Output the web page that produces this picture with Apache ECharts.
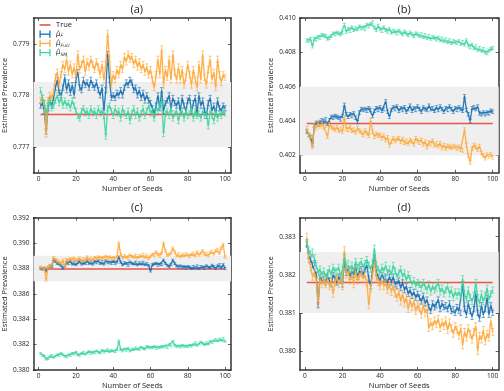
<!DOCTYPE html>
<html>
<head>
<meta charset="utf-8">
<script src="https://cdn.jsdelivr.net/npm/echarts@6/dist/echarts.min.js"></script>
<style>html,body{margin:0;padding:0;background:#fff;}#c{width:504px;height:391px;}</style>
</head>
<body>
<div id="c"></div>
<script>
const seeds = [1,2,3,4,5,6,7,8,9,10,11,12,13,14,15,16,17,18,19,20,21,22,23,24,25,26,27,28,29,30,31,32,33,34,35,36,37,38,39,40,41,42,43,44,45,46,47,48,49,50,51,52,53,54,55,56,57,58,59,60,61,62,63,64,65,66,67,68,69,70,71,72,73,74,75,76,77,78,79,80,81,82,83,84,85,86,87,88,89,90,91,92,93,94,95,96,97,98,99,100];

// ---------- Panel (a) ----------
const aF = [0.77780,0.77785,0.77770,0.77730,0.77775,0.77790,0.77780,0.77795,0.77815,0.77830,
0.77805,0.77800,0.77815,0.77835,0.77810,0.77825,0.77805,0.77820,0.77800,0.77830,
0.77845,0.77815,0.77810,0.77830,0.77820,0.77825,0.77815,0.77830,0.77820,0.77815,
0.77825,0.77810,0.77800,0.77815,0.77770,0.77810,0.77880,0.77830,0.77795,0.77800,
0.77795,0.77805,0.77800,0.77810,0.77800,0.77815,0.77825,0.77820,0.77830,0.77825,
0.77810,0.77815,0.77800,0.77810,0.77795,0.77805,0.77790,0.77800,0.77790,0.77785,
0.77775,0.77765,0.77780,0.77800,0.77775,0.77810,0.77770,0.77785,0.77790,0.77800,
0.77775,0.77795,0.77785,0.77780,0.77790,0.77770,0.77795,0.77780,0.77770,0.77790,
0.77795,0.77770,0.77785,0.77795,0.77765,0.77800,0.77780,0.77790,0.77770,0.77760,
0.77785,0.77795,0.77770,0.77780,0.77765,0.77790,0.77775,0.77770,0.77780,0.77775];
const aFU = [0.77790,0.77795,0.77785,0.77725,0.77790,0.77800,0.77795,0.77805,0.77835,0.77845,
0.77820,0.77840,0.77860,0.77850,0.77870,0.77845,0.77860,0.77840,0.77855,0.77835,
0.77880,0.77850,0.77860,0.77870,0.77845,0.77865,0.77855,0.77870,0.77860,0.77850,
0.77865,0.77855,0.77840,0.77860,0.77830,0.77860,0.77920,0.77870,0.77820,0.77840,
0.77830,0.77850,0.77840,0.77860,0.77850,0.77875,0.77865,0.77880,0.77870,0.77875,
0.77860,0.77870,0.77855,0.77865,0.77850,0.77860,0.77845,0.77855,0.77840,0.77850,
0.77830,0.77815,0.77840,0.77870,0.77840,0.77890,0.77820,0.77850,0.77835,0.77870,
0.77830,0.77880,0.77845,0.77830,0.77855,0.77830,0.77850,0.77820,0.77835,0.77860,
0.77840,0.77820,0.77850,0.77830,0.77815,0.77860,0.77830,0.77880,0.77835,0.77820,
0.77850,0.77870,0.77830,0.77845,0.77815,0.77870,0.77840,0.77825,0.77840,0.77835];
const aSM = [0.77810,0.77795,0.77785,0.77765,0.77780,0.77790,0.77775,0.77780,0.77790,0.77800,
0.77785,0.77795,0.77780,0.77790,0.77780,0.77785,0.77775,0.77790,0.77780,0.77770,
0.77760,0.77755,0.77770,0.77775,0.77765,0.77770,0.77760,0.77775,0.77765,0.77770,
0.77760,0.77775,0.77765,0.77770,0.77760,0.77720,0.77775,0.77780,0.77770,0.77760,
0.77775,0.77765,0.77770,0.77755,0.77775,0.77765,0.77760,0.77770,0.77750,0.77765,
0.77775,0.77760,0.77770,0.77755,0.77765,0.77775,0.77760,0.77770,0.77780,0.77765,
0.77770,0.77755,0.77775,0.77770,0.77780,0.77790,0.77725,0.77765,0.77770,0.77760,
0.77775,0.77755,0.77765,0.77770,0.77750,0.77765,0.77770,0.77755,0.77770,0.77760,
0.77765,0.77775,0.77755,0.77770,0.77760,0.77765,0.77755,0.77770,0.77760,0.77765,
0.77740,0.77770,0.77760,0.77750,0.77770,0.77755,0.77765,0.77760,0.77770,0.77765];

// ---------- Panel (b) ----------
const bF = [0.40340,0.40320,0.40305,0.40262,0.40375,0.40390,0.40380,0.40395,0.40405,0.40400,
0.40410,0.40385,0.40405,0.40425,0.40420,0.40430,0.40425,0.40420,0.40410,0.40430,
0.40495,0.40440,0.40425,0.40440,0.40430,0.40445,0.40420,0.40395,0.40450,0.40470,
0.40465,0.40470,0.40460,0.40475,0.40465,0.40430,0.40460,0.40475,0.40465,0.40480,
0.40460,0.40470,0.40515,0.40455,0.40425,0.40465,0.40480,0.40470,0.40485,0.40460,
0.40475,0.40465,0.40480,0.40455,0.40470,0.40490,0.40460,0.40475,0.40465,0.40485,
0.40470,0.40455,0.40480,0.40470,0.40465,0.40490,0.40470,0.40475,0.40460,0.40480,
0.40465,0.40485,0.40470,0.40455,0.40475,0.40465,0.40485,0.40470,0.40455,0.40475,
0.40465,0.40480,0.40470,0.40460,0.40545,0.40465,0.40440,0.40400,0.40475,0.40480,
0.40470,0.40485,0.40445,0.40440,0.40450,0.40440,0.40450,0.40445,0.40460,0.40455];
const bFU = [0.40360,0.40320,0.40310,0.40250,0.40375,0.40360,0.40390,0.40370,0.40385,0.40365,
0.40375,0.40310,0.40380,0.40365,0.40360,0.40350,0.40365,0.40345,0.40355,0.40340,
0.40420,0.40355,0.40350,0.40365,0.40345,0.40350,0.40335,0.40360,0.40345,0.40335,
0.40320,0.40345,0.40330,0.40315,0.40405,0.40340,0.40310,0.40325,0.40315,0.40320,
0.40300,0.40315,0.40290,0.40305,0.40260,0.40280,0.40300,0.40285,0.40295,0.40300,
0.40280,0.40295,0.40275,0.40285,0.40270,0.40290,0.40280,0.40265,0.40300,0.40285,
0.40275,0.40290,0.40265,0.40280,0.40250,0.40275,0.40265,0.40285,0.40260,0.40270,
0.40255,0.40270,0.40245,0.40260,0.40240,0.40255,0.40250,0.40245,0.40255,0.40250,
0.40240,0.40250,0.40235,0.40230,0.40350,0.40260,0.40200,0.40160,0.40240,0.40260,
0.40250,0.40235,0.40255,0.40215,0.40200,0.40185,0.40205,0.40195,0.40205,0.40190];
const bSM = [0.40870,0.40868,0.40878,0.40835,0.40880,0.40875,0.40890,0.40885,0.40900,0.40898,
0.40895,0.40880,0.40885,0.40895,0.40910,0.40905,0.40915,0.40910,0.40905,0.40915,
0.40960,0.40920,0.40935,0.40925,0.40945,0.40930,0.40940,0.40935,0.40950,0.40940,
0.40945,0.40935,0.40960,0.40950,0.40965,0.40975,0.40945,0.40930,0.40955,0.40935,
0.40925,0.40945,0.40930,0.40920,0.40935,0.40915,0.40925,0.40920,0.40910,0.40925,
0.40915,0.40905,0.40920,0.40910,0.40900,0.40915,0.40905,0.40895,0.40910,0.40905,
0.40895,0.40905,0.40890,0.40900,0.40885,0.40895,0.40880,0.40890,0.40885,0.40875,
0.40885,0.40870,0.40880,0.40865,0.40875,0.40860,0.40870,0.40855,0.40865,0.40860,
0.40855,0.40865,0.40850,0.40860,0.40845,0.40870,0.40840,0.40830,0.40845,0.40825,
0.40835,0.40815,0.40825,0.40810,0.40820,0.40800,0.40795,0.40810,0.40820,0.40825];

// ---------- Panel (c) ----------
const cF = [0.38800,0.38795,0.38800,0.38780,0.38805,0.38820,0.38815,0.38870,0.38855,0.38840,
0.38835,0.38825,0.38800,0.38820,0.38845,0.38840,0.38855,0.38835,0.38850,0.38830,
0.38845,0.38855,0.38835,0.38845,0.38840,0.38860,0.38840,0.38850,0.38835,0.38855,
0.38845,0.38860,0.38840,0.38855,0.38835,0.38860,0.38845,0.38850,0.38840,0.38855,
0.38840,0.38850,0.38890,0.38850,0.38830,0.38845,0.38840,0.38825,0.38850,0.38840,
0.38835,0.38850,0.38830,0.38845,0.38835,0.38850,0.38830,0.38840,0.38825,0.38780,
0.38830,0.38835,0.38840,0.38825,0.38835,0.38830,0.38865,0.38840,0.38825,0.38815,
0.38830,0.38865,0.38840,0.38820,0.38810,0.38820,0.38805,0.38815,0.38800,0.38815,
0.38810,0.38800,0.38815,0.38805,0.38820,0.38800,0.38815,0.38810,0.38800,0.38820,
0.38810,0.38805,0.38825,0.38815,0.38800,0.38820,0.38830,0.38805,0.38830,0.38800];
const cFU = [0.38810,0.38800,0.38805,0.38710,0.38810,0.38815,0.38825,0.38885,0.38870,0.38860,
0.38850,0.38840,0.38865,0.38815,0.38870,0.38860,0.38875,0.38865,0.38880,0.38860,
0.38870,0.38880,0.38860,0.38875,0.38865,0.38890,0.38870,0.38880,0.38865,0.38885,
0.38875,0.38890,0.38880,0.38885,0.38870,0.38895,0.38880,0.38890,0.38875,0.38885,
0.38880,0.38890,0.39000,0.38910,0.38885,0.38900,0.38890,0.38880,0.38905,0.38895,
0.38890,0.38905,0.38885,0.38900,0.38895,0.38910,0.38890,0.38905,0.38880,0.38895,
0.38910,0.38900,0.38930,0.38910,0.38895,0.38920,0.39000,0.38940,0.38905,0.38910,
0.38920,0.38960,0.38930,0.38900,0.38915,0.38895,0.38910,0.38900,0.38915,0.38905,
0.38895,0.38910,0.38920,0.38900,0.38930,0.38905,0.38920,0.38940,0.38910,0.38920,
0.38900,0.38925,0.38935,0.38915,0.38940,0.38950,0.38920,0.38960,0.38990,0.38890];
const cSM = [0.38130,0.38115,0.38110,0.38085,0.38090,0.38105,0.38115,0.38100,0.38110,0.38120,
0.38115,0.38130,0.38120,0.38110,0.38105,0.38120,0.38115,0.38130,0.38125,0.38140,
0.38120,0.38115,0.38130,0.38140,0.38125,0.38135,0.38145,0.38130,0.38140,0.38135,
0.38150,0.38140,0.38135,0.38155,0.38140,0.38150,0.38160,0.38145,0.38155,0.38150,
0.38145,0.38160,0.38230,0.38160,0.38150,0.38165,0.38155,0.38170,0.38150,0.38165,
0.38160,0.38175,0.38165,0.38160,0.38180,0.38170,0.38165,0.38185,0.38175,0.38180,
0.38175,0.38185,0.38170,0.38180,0.38175,0.38185,0.38180,0.38190,0.38175,0.38200,
0.38190,0.38225,0.38195,0.38185,0.38190,0.38180,0.38195,0.38185,0.38190,0.38185,
0.38195,0.38190,0.38200,0.38215,0.38195,0.38205,0.38220,0.38210,0.38200,0.38215,
0.38205,0.38225,0.38215,0.38230,0.38240,0.38230,0.38245,0.38235,0.38250,0.38225];

// ---------- Panel (d) ----------
const dF = [0.38280,0.38250,0.38240,0.38225,0.38230,0.38200,0.38120,0.38195,0.38185,0.38190,
0.38180,0.38195,0.38185,0.38175,0.38200,0.38190,0.38180,0.38195,0.38185,0.38175,
0.38235,0.38205,0.38215,0.38195,0.38210,0.38200,0.38220,0.38195,0.38210,0.38215,
0.38200,0.38215,0.38225,0.38190,0.38170,0.38215,0.38245,0.38205,0.38195,0.38185,
0.38200,0.38190,0.38195,0.38180,0.38195,0.38180,0.38195,0.38175,0.38170,0.38185,
0.38165,0.38180,0.38160,0.38170,0.38150,0.38160,0.38145,0.38155,0.38140,0.38150,
0.38140,0.38130,0.38145,0.38125,0.38135,0.38115,0.38105,0.38125,0.38115,0.38120,
0.38135,0.38110,0.38125,0.38115,0.38120,0.38110,0.38125,0.38105,0.38110,0.38100,
0.38115,0.38105,0.38100,0.38175,0.38110,0.38095,0.38125,0.38105,0.38090,0.38110,
0.38150,0.38100,0.38085,0.38120,0.38095,0.38110,0.38140,0.38095,0.38120,0.38100];
const dFU = [0.38300,0.38240,0.38220,0.38195,0.38205,0.38185,0.38125,0.38190,0.38175,0.38185,
0.38175,0.38190,0.38170,0.38185,0.38150,0.38180,0.38195,0.38175,0.38190,0.38170,
0.38265,0.38200,0.38210,0.38185,0.38200,0.38175,0.38210,0.38185,0.38195,0.38205,
0.38190,0.38200,0.38180,0.38120,0.38165,0.38200,0.38235,0.38195,0.38180,0.38170,
0.38185,0.38170,0.38180,0.38160,0.38175,0.38155,0.38170,0.38150,0.38140,0.38155,
0.38130,0.38150,0.38125,0.38140,0.38110,0.38135,0.38115,0.38130,0.38105,0.38120,
0.38115,0.38095,0.38120,0.38100,0.38110,0.38060,0.38075,0.38065,0.38080,0.38070,
0.38085,0.38060,0.38075,0.38065,0.38080,0.38055,0.38075,0.38060,0.38045,0.38065,
0.38055,0.38040,0.38060,0.38015,0.38050,0.38035,0.38060,0.38045,0.38030,0.38050,
0.38065,0.38000,0.38040,0.38030,0.38055,0.38025,0.38045,0.38035,0.38080,0.38050];
const dSM = [0.38285,0.38265,0.38255,0.38260,0.38245,0.38225,0.38205,0.38215,0.38200,0.38210,
0.38195,0.38205,0.38215,0.38200,0.38220,0.38210,0.38205,0.38220,0.38195,0.38215,
0.38245,0.38225,0.38230,0.38215,0.38225,0.38210,0.38235,0.38220,0.38225,0.38235,
0.38220,0.38230,0.38240,0.38225,0.38215,0.38230,0.38270,0.38225,0.38215,0.38205,
0.38220,0.38210,0.38225,0.38205,0.38215,0.38200,0.38225,0.38210,0.38195,0.38205,
0.38215,0.38195,0.38205,0.38185,0.38200,0.38190,0.38175,0.38185,0.38170,0.38180,
0.38175,0.38165,0.38180,0.38170,0.38160,0.38175,0.38155,0.38170,0.38160,0.38165,
0.38180,0.38155,0.38165,0.38150,0.38160,0.38170,0.38150,0.38160,0.38140,0.38155,
0.38145,0.38155,0.38140,0.38190,0.38150,0.38135,0.38160,0.38140,0.38130,0.38145,
0.38180,0.38140,0.38125,0.38150,0.38130,0.38145,0.38165,0.38135,0.38150,0.38160];

// true values, reference bands, error half-widths
const trueVals = [0.77763, 0.40386, 0.38795, 0.38180];
const bandLo   = [0.77700, 0.40200, 0.38700, 0.38100];
const bandHi   = [0.77826, 0.40600, 0.38900, 0.38260];
const errF  = [0.00005, 0.00010, 0.00008, 0.00007];
const errFU = [0.00006, 0.00011, 0.00009, 0.00009];
const errSM = [0.00005, 0.00009, 0.00007, 0.00008];

// axes
const titles = ['(a)', '(b)', '(c)', '(d)'];
const xTicks = [0, 20, 40, 60, 80, 100];
const yTicks = [
  [0.777, 0.778, 0.779],
  [0.402, 0.404, 0.406, 0.408, 0.410],
  [0.380, 0.382, 0.384, 0.386, 0.388, 0.390, 0.392],
  [0.380, 0.381, 0.382, 0.383]
];
const yMin = [0.7765, 0.401, 0.380, 0.3795];
const yMax = [0.7795, 0.410, 0.392, 0.3835];
const xMin = -2.8, xMax = 103.2;

// legend entries
const legendKeys = ['True', 'F', 'FU', 'SM'];
const legendLabels = ['True', '{m|μ̂}{s|F}', '{m|μ̂}{s|F∪U}', '{m|μ̂}{s|SM}'];

const panelF  = [aF, bF, cF, dF];
const panelFU = [aFU, bFU, cFU, dFU];
const panelSM = [aSM, bSM, cSM, dSM];

const COL = { F: '#1670b4', FU: '#ffa938', SM: '#3dd69c', True: '#e8453c' };
const FONT = 'Open Sans';

const gridsPos = [
  { left: 32.5, top: 18, width: 198.5, height: 154.7 },
  { left: 299.7, top: 18, width: 199, height: 154.7 },
  { left: 32.7, top: 217.7, width: 198.3, height: 153 },
  { left: 299.7, top: 217.7, width: 199, height: 153 }
];

const spine = { show: true, onZero: false, lineStyle: { color: '#333', width: 1.5 } };
const tickStyle = { lineStyle: { color: '#333', width: 0.8 } };

const xAxes = [], yAxes = [], series = [], titleArr = [];

function errRender(color) {
  return function (params, api) {
    const x = api.value(0);
    const a = api.coord([x, api.value(1)]);
    const b = api.coord([x, api.value(2)]);
    const st = { stroke: color, lineWidth: 1, opacity: 0.6 };
    return {
      type: 'group',
      children: [
        { type: 'line', shape: { x1: a[0], y1: a[1], x2: b[0], y2: b[1] }, style: st },
        { type: 'line', shape: { x1: a[0] - 1.6, y1: a[1], x2: a[0] + 1.6, y2: a[1] }, style: st },
        { type: 'line', shape: { x1: b[0] - 1.6, y1: b[1], x2: b[0] + 1.6, y2: b[1] }, style: st }
      ]
    };
  };
}

for (let i = 0; i < 4; i++) {
  const g = gridsPos[i];
  titleArr.push({
    text: titles[i], left: g.left + g.width / 2, top: i < 2 ? -1 : 197, textAlign: 'center',
    textStyle: { fontFamily: FONT, fontSize: 11, fontWeight: 'normal', color: '#222' }
  });
  xAxes.push({
    type: 'value', gridIndex: i, min: xMin, max: xMax, position: 'bottom',
    name: 'Number of Seeds', nameLocation: 'middle', nameGap: 12,
    nameTextStyle: { fontFamily: FONT, fontSize: 7.5, color: '#222' },
    axisLine: spine,
    axisTick: { show: true, inside: true, length: 3, customValues: xTicks, ...tickStyle },
    axisLabel: { show: true, customValues: xTicks, margin: 3, fontFamily: FONT, fontSize: 6.5, color: '#222' },
    splitLine: { show: false }
  });
  xAxes.push({
    type: 'value', gridIndex: i, min: xMin, max: xMax, position: 'top',
    axisLine: spine,
    axisTick: { show: true, inside: true, length: 3, customValues: xTicks, ...tickStyle },
    axisLabel: { show: false }, splitLine: { show: false }
  });
  yAxes.push({
    type: 'value', gridIndex: i, min: yMin[i], max: yMax[i], position: 'left',
    name: 'Estimated Prevalence', nameLocation: 'middle', nameGap: 16,
    nameTextStyle: { fontFamily: FONT, fontSize: 7.5, color: '#222' },
    axisLine: spine,
    axisTick: { show: true, inside: true, length: 3, customValues: yTicks[i], ...tickStyle },
    axisLabel: { show: true, customValues: yTicks[i], margin: 4, fontFamily: FONT, fontSize: 6.5, color: '#222',
      formatter: v => Number(v).toFixed(3) },
    splitLine: { show: false }
  });
  yAxes.push({
    type: 'value', gridIndex: i, min: yMin[i], max: yMax[i], position: 'right',
    axisLine: spine,
    axisTick: { show: true, inside: true, length: 3, customValues: yTicks[i], ...tickStyle },
    axisLabel: { show: false }, splitLine: { show: false }
  });

  const xi = 2 * i, yi = 2 * i;
  series.push({
    type: 'line', xAxisIndex: xi, yAxisIndex: yi,
    data: [[seeds[0], trueVals[i]], [seeds[seeds.length - 1], trueVals[i]]],
    showSymbol: false, silent: true, z: 1,
    lineStyle: { color: COL.True, width: 1.5, opacity: 0.9 },
    markArea: { silent: true, itemStyle: { color: '#efefef' },
      data: [[{ yAxis: bandLo[i] }, { yAxis: bandHi[i] }]] }
  });
  const sets = [['F', panelF[i], errF[i]], ['FU', panelFU[i], errFU[i]], ['SM', panelSM[i], errSM[i]]];
  sets.forEach(([key, vals, err], k) => {
    series.push({
      type: 'custom', xAxisIndex: xi, yAxisIndex: yi, silent: true, z: 2 + k * 2,
      renderItem: errRender(COL[key]), clip: true,
      data: seeds.map((s, j) => [s, vals[j] - err, vals[j] + err])
    });
    series.push({
      type: 'line', xAxisIndex: xi, yAxisIndex: yi, z: 3 + k * 2,
      data: seeds.map((s, j) => [s, vals[j]]),
      showSymbol: false, silent: true,
      lineStyle: { color: COL[key], width: 1.35, opacity: 0.9 }
    });
  });
}

// legend drawn inside panel (a)
const legendEls = [];
const lgX0 = 39.5, lgX1 = 50.5, lgY0 = 25, lgStep = 9.2;
legendKeys.forEach((key, k) => {
  const y = lgY0 + k * lgStep;
  const c = COL[key];
  if (key === 'True') {
    legendEls.push({ type: 'line', shape: { x1: lgX0, y1: y, x2: lgX1, y2: y }, style: { stroke: c, lineWidth: 1.5 } });
  } else {
    const st = { stroke: c, lineWidth: 1.3 };
    legendEls.push({ type: 'line', shape: { x1: lgX0 + 0.6, y1: y, x2: lgX1 - 0.6, y2: y }, style: st });
    legendEls.push({ type: 'line', shape: { x1: lgX0 + 0.6, y1: y - 3.6, x2: lgX0 + 0.6, y2: y + 3.6 }, style: st });
    legendEls.push({ type: 'line', shape: { x1: lgX1 - 0.6, y1: y - 3.6, x2: lgX1 - 0.6, y2: y + 3.6 }, style: st });
  }
  legendEls.push({
    type: 'text', x: 56, y: y, z: 100,
    style: {
      text: legendLabels[k], verticalAlign: 'middle', align: 'left',
      font: '7.5px "Open Sans"', fill: '#222',
      rich: {
        m: { fontFamily: 'DejaVu Sans', fontStyle: 'italic', fontSize: 7, fill: '#222' },
        s: { fontFamily: 'DejaVu Sans', fontStyle: 'italic', fontSize: 4.5, fill: '#222', padding: [4, 0, 0, 0] }
      }
    }
  });
});

const chart = echarts.init(document.getElementById('c'), null, { renderer: 'canvas' });
chart.setOption({
  animation: false,
  backgroundColor: '#fff',
  title: titleArr,
  grid: gridsPos.map(g => ({ ...g, containLabel: false })),
  xAxis: xAxes,
  yAxis: yAxes,
  series: series,
  graphic: [{ type: 'group', z: 100, children: legendEls }]
});
</script>
</body>
</html>
